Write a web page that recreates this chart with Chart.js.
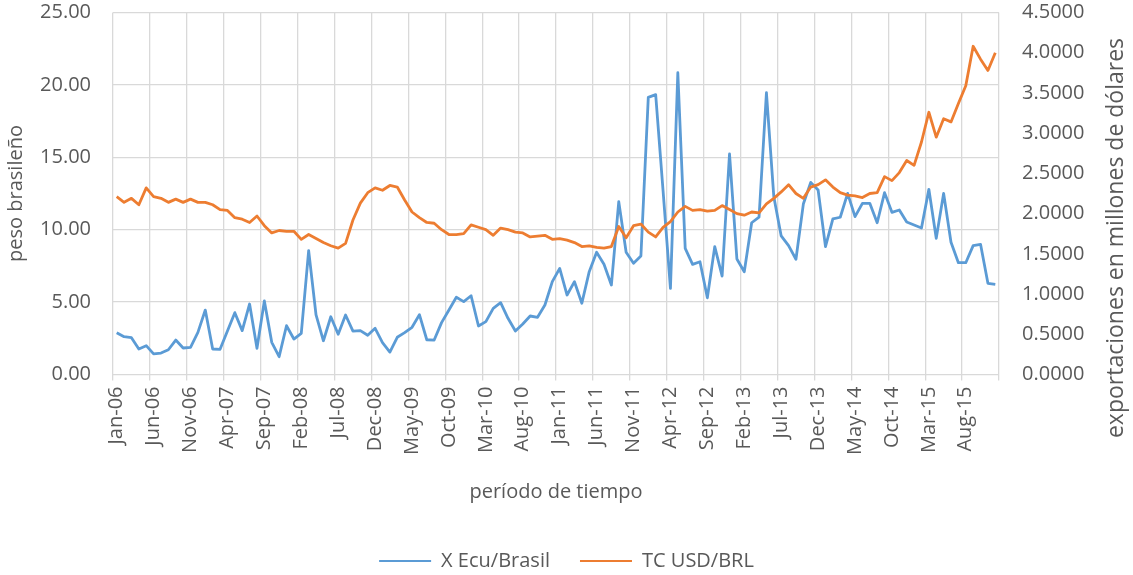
<!DOCTYPE html>
<html>

<head>
    <title>X Ecu/Brasil y TC USD/BRL</title>
    <style>
        body {
            margin: 0;
            background: #ffffff;
        }
        #wrap {
            width: 1133px;
            height: 575px;
        }
    </style>
    <script src="https://cdn.jsdelivr.net/npm/chart.js"></script>
</head>

<body>
    <div id="wrap"><canvas id="chart"></canvas></div>

    <script>
        // categories: Jan-06 .. Dec-15, monthly
        var months = ['Jan', 'Feb', 'Mar', 'Apr', 'May', 'Jun', 'Jul', 'Aug', 'Sep', 'Oct', 'Nov', 'Dec'];
        var years = ['06', '07', '08', '09', '10', '11', '12', '13', '14', '15'];

        // X Ecu/Brasil (left axis)
        var exportsEcuBrasil = [
            2.89, 2.61, 2.54, 1.76, 1.99, 1.42, 1.48, 1.71, 2.38, 1.83, 1.88, 2.91,
            4.45, 1.76, 1.74, 3.00, 4.27, 3.03, 4.87, 1.81, 5.08, 2.22, 1.23, 3.37,
            2.45, 2.84, 8.55, 4.11, 2.33, 3.99, 2.78, 4.11, 3.00, 3.03, 2.71, 3.19,
            2.20, 1.55, 2.57, 2.89, 3.26, 4.13, 2.40, 2.38, 3.58, 4.45, 5.33, 5.03,
            5.44, 3.35, 3.65, 4.57, 4.96, 3.88, 3.00, 3.49, 4.04, 3.95, 4.80, 6.41,
            7.33, 5.49, 6.41, 4.92, 7.10, 8.44, 7.61, 6.18, 11.94, 8.44, 7.68, 8.18,
            19.14, 19.33, 12.70, 5.95, 20.84, 8.71, 7.61, 7.79, 5.30, 8.83, 6.80, 15.23,
            7.98, 7.10, 10.48, 10.86, 19.46, 12.28, 9.57, 8.90, 7.96, 11.77, 13.27, 12.74,
            8.83, 10.74, 10.86, 12.51, 10.90, 11.82, 11.82, 10.48, 12.56, 11.20, 11.36, 10.53,
            10.32, 10.12, 12.79, 9.41, 12.51, 9.13, 7.72, 7.72, 8.90, 8.99, 6.30, 6.23
        ];

        // TC USD/BRL (right axis)
        var tcUsdBrl = [
            2.21, 2.14, 2.19, 2.11, 2.32, 2.21, 2.19, 2.14, 2.18, 2.14, 2.18, 2.14,
            2.14, 2.11, 2.05, 2.04, 1.95, 1.93, 1.89, 1.97, 1.85, 1.76, 1.79, 1.78,
            1.78, 1.68, 1.74, 1.69, 1.64, 1.60, 1.57, 1.63, 1.92, 2.13, 2.26, 2.32,
            2.29, 2.35, 2.33, 2.17, 2.02, 1.95, 1.89, 1.88, 1.80, 1.74, 1.74, 1.75,
            1.86, 1.83, 1.80, 1.73, 1.82, 1.80, 1.77, 1.76, 1.71, 1.72, 1.73, 1.68,
            1.69, 1.67, 1.64, 1.59, 1.60, 1.58, 1.57, 1.59, 1.84, 1.70, 1.85, 1.87,
            1.77, 1.71, 1.83, 1.90, 2.02, 2.09, 2.04, 2.05, 2.03, 2.04, 2.10, 2.05,
            2.00, 1.98, 2.02, 2.01, 2.12, 2.19, 2.27, 2.36, 2.25, 2.19, 2.33, 2.36,
            2.42, 2.33, 2.26, 2.23, 2.22, 2.20, 2.25, 2.26, 2.46, 2.41, 2.51, 2.66,
            2.60, 2.89, 3.26, 2.95, 3.18, 3.14, 3.37, 3.59, 4.08, 3.92, 3.78, 4.00
        ];

        var labels = [];
        years.forEach(function (y) {
            months.forEach(function (m) {
                labels.push(m + '-' + y);
            });
        });

        var GRID = '#d9d9d9';
        var TEXT = '#595959';
        var FONT = 'Open Sans';

        // right axis title reads bottom-to-top like the left one
        var rightTitle = {
            id: 'rightTitle',
            afterDraw: function (chart) {
                var ctx = chart.ctx;
                ctx.save();
                ctx.translate(1116, 238);
                ctx.rotate(-Math.PI / 2);
                ctx.fillStyle = TEXT;
                ctx.font = '23px "' + FONT + '"';
                ctx.textAlign = 'center';
                ctx.textBaseline = 'middle';
                ctx.fillText('exportaciones en millones de dólares', 0, 0);
                ctx.restore();
            }
        };

        // keep tick padding from pushing the plot area down
        function fixPadding(scale) {
            scale.paddingTop = 0;
            scale.paddingBottom = 0;
        }

        new Chart(document.getElementById('chart'), {
            type: 'line',
            data: {
                labels: labels,
                datasets: [{
                    label: 'X Ecu/Brasil',
                    data: exportsEcuBrasil,
                    borderColor: '#5b9bd5',
                    backgroundColor: '#5b9bd5',
                    borderWidth: 2.8,
                    pointRadius: 0,
                    borderJoinStyle: 'round',
                    yAxisID: 'y',
                    order: 1
                }, {
                    label: 'TC USD/BRL',
                    data: tcUsdBrl,
                    borderColor: '#ed7d31',
                    backgroundColor: '#ed7d31',
                    borderWidth: 2.8,
                    pointRadius: 0,
                    borderJoinStyle: 'round',
                    yAxisID: 'y1',
                    order: 0
                }]
            },
            options: {
                responsive: true,
                maintainAspectRatio: false,
                animation: false,
                layout: {
                    padding: { top: 12.5, bottom: -6, left: 0, right: 0 }
                },
                plugins: {
                    tooltip: { enabled: false },
                    legend: {
                        position: 'bottom',
                        labels: {
                            color: TEXT,
                            font: { family: FONT, size: 20 },
                            boxWidth: 52,
                            boxHeight: 2,
                            padding: 30,
                            sort: function (a, b) { return a.datasetIndex - b.datasetIndex; },
                            generateLabels: function (chart) {
                                var items = Chart.defaults.plugins.legend.labels.generateLabels(chart);
                                items.forEach(function (it) {
                                    it.lineWidth = 0;
                                    it.fillStyle = it.strokeStyle;
                                });
                                return items;
                            }
                        }
                    }
                },
                scales: {
                    x: {
                        offset: true,
                        grid: {
                            offset: true,
                            color: function (ctx) {
                                return (ctx.index === undefined || ctx.index % 5 === 0) ? GRID : 'rgba(0,0,0,0)';
                            },
                            lineWidth: 1.3,
                            tickLength: 6
                        },
                        border: { display: false },
                        ticks: {
                            autoSkip: false,
                            maxRotation: 90,
                            minRotation: 90,
                            padding: 6,
                            color: TEXT,
                            font: { family: FONT, size: 20 },
                            callback: function (value, index) {
                                return index % 5 === 0 ? labels[index] : '';
                            }
                        },
                        title: {
                            display: true,
                            text: 'período de tiempo',
                            color: TEXT,
                            padding: { top: 4, bottom: 17 },
                            font: { family: FONT, size: 20 }
                        },
                        afterFit: function (scale) { scale.height = 146.5; }
                    },
                    y: {
                        position: 'left',
                        min: 0,
                        max: 25,
                        grid: { color: GRID, lineWidth: 1.3, drawTicks: false },
                        border: { display: false },
                        ticks: {
                            stepSize: 5,
                            padding: 22,
                            color: TEXT,
                            font: { family: FONT, size: 20 },
                            callback: function (v) { return v.toFixed(2); }
                        },
                        title: {
                            display: true,
                            text: 'peso brasileño',
                            color: TEXT,
                            font: { family: FONT, size: 20 }
                        },
                        afterFit: function (scale) { scale.width = 113; fixPadding(scale); }
                    },
                    y1: {
                        position: 'right',
                        min: 0,
                        max: 4.5,
                        grid: { display: false, drawTicks: false },
                        border: { display: false },
                        ticks: {
                            stepSize: 0.5,
                            padding: 23,
                            color: TEXT,
                            font: { family: FONT, size: 20 },
                            callback: function (v) { return v.toFixed(4); }
                        },
                        afterFit: function (scale) { scale.width = 134; fixPadding(scale); }
                    }
                }
            },
            plugins: [rightTitle]
        });
    </script>
</body>

</html>
